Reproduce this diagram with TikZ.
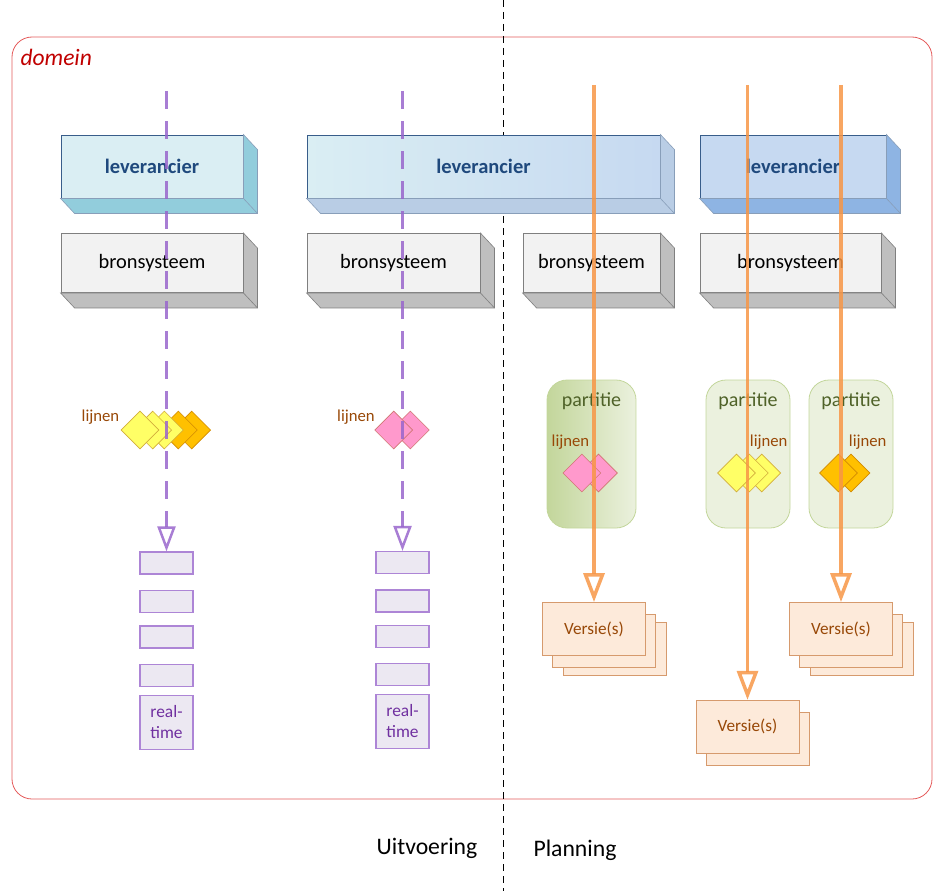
\documentclass[tikz,border=0pt]{standalone}
\usepackage{fontspec}
\setmainfont{Carlito}
\usetikzlibrary{shapes.geometric,arrows.meta,positioning}

\definecolor{domainred}{RGB}{228,90,90}
\definecolor{domaintext}{RGB}{192,0,0}
\definecolor{levtext}{RGB}{31,73,125}
\definecolor{levborder}{RGB}{56,93,138}
\definecolor{cyanfront}{RGB}{218,238,243}
\definecolor{cyanside}{RGB}{146,205,220}
\definecolor{bluefront}{RGB}{198,217,241}
\definecolor{blueside}{RGB}{142,180,227}
\definecolor{bluemid}{RGB}{185,205,229}
\definecolor{bronfront}{RGB}{242,242,242}
\definecolor{bronside}{RGB}{191,191,191}
\definecolor{bronborder}{RGB}{127,127,127}
\definecolor{rtpurple}{RGB}{153,102,204}
\definecolor{rttext}{RGB}{112,48,160}
\definecolor{rtfill}{RGB}{236,232,242}
\definecolor{lijnbrown}{RGB}{152,72,7}
\definecolor{partgreen}{RGB}{79,98,40}
\definecolor{partdark}{RGB}{195,214,155}
\definecolor{partlight}{RGB}{235,241,222}
\definecolor{gemyellow}{RGB}{255,255,102}
\definecolor{gemorange}{RGB}{255,192,0}
\definecolor{gempink}{RGB}{255,153,204}
\definecolor{versieorange}{RGB}{247,150,70}
\definecolor{versiefill}{RGB}{253,234,218}
\definecolor{versieborder}{RGB}{200,120,60}

% depth faces of a 3D block: node name, fill, edge colour
\newcommand{\boxdepth}[3]{%
  \filldraw[fill=#2, draw=#3, line width=0.6pt] (#1.south west) -- ++(14,15)
    -- ([shift={(14,15)}]#1.south east) -- ([shift={(14,15)}]#1.north east)
    -- (#1.north east) -- (#1.south east) -- cycle;
  \draw[#3, line width=0.6pt] (#1.south east) -- ++(14,15);}

\tikzset{
  levbox/.style={draw=levborder, line width=0.9pt, minimum height=63pt, inner sep=0pt,
    text=levtext, font=\fontsize{20.5}{24}\selectfont\bfseries},
  bronbox/.style={draw=bronborder, fill=bronfront, line width=0.9pt, minimum height=59pt,
    inner sep=0pt, font=\fontsize{20.4}{24}\selectfont},
  rtbox/.style={draw=rtpurple!80, fill=rtfill, line width=1.2pt, minimum width=53pt,
    minimum height=22pt, inner sep=0pt, text=rttext, align=center,
    font=\fontsize{17.4}{21}\selectfont},
  gem/.style={diamond, aspect=1, minimum width=38pt, minimum height=38pt, inner sep=0pt,
    fill=#1, draw=#1!55!lijnbrown, line width=0.6pt},
  lijntext/.style={text=lijnbrown, font=\fontsize{16.7}{19}\selectfont},
  partbox/.style={draw=partdark, line width=0.8pt, rounded corners=20pt, minimum height=148pt},
  parttext/.style={text=partgreen, font=\fontsize{20}{24}\selectfont},
  versiebox/.style={draw=versieborder!75, fill=versiefill, line width=0.8pt, minimum width=103pt,
    minimum height=53pt, inner sep=0pt, text=lijnbrown, font=\fontsize{17.2}{20}\selectfont},
  phase/.style={font=\fontsize{23.7}{28}\selectfont},
  rtarrow/.style={draw=rtpurple, draw opacity=0.85, line width=2.5pt, dash pattern=on 18pt off 12pt,
    -{Triangle[open, length=25pt, width=18pt]}},
  versiearrow/.style={draw=versieorange, draw opacity=0.85, line width=3.5pt,
    -{Triangle[open, length=29pt, width=21pt]}}
}

\begin{document}
\begin{tikzpicture}[x=1pt, y=-1pt]
    \useasboundingbox (0,0) rectangle (935,891);

    % Domain frame
    \draw[domainred, line width=0.8pt, rounded corners=20pt] (12,37) rectangle (932,799);
    \node[anchor=west, text=domaintext, font=\fontsize{23.5}{28}\selectfont\itshape] (domein) at (17,57) {domein};

    % Divider
    \draw[black, line width=0.8pt, dash pattern=on 7pt off 5pt] (503,0) -- (503,891);

    % Leverancier blocks
    \node[levbox, fill=cyanfront, minimum width=182pt] (lev1) at (152,166.5) {leverancier};
    \boxdepth{lev1}{cyanside}{levborder!60}
    \node[levbox, left color=cyanfront, right color=bluefront, minimum width=353pt] (lev2) at (483.5,166.5) {leverancier};
    \boxdepth{lev2}{bluemid}{levborder!60}
    \node[levbox, fill=bluefront, minimum width=186pt] (lev3) at (793,166.5) {leverancier};
    \boxdepth{lev3}{blueside}{levborder!60}

    % Bronsysteem blocks
    \node[bronbox, minimum width=182pt] (bron1) at (152,263) {bronsysteem};
    \boxdepth{bron1}{bronside}{bronborder}
    \node[bronbox, minimum width=173pt] (bron2) at (393.5,263) {bronsysteem};
    \boxdepth{bron2}{bronside}{bronborder}
    \node[bronbox, minimum width=137pt] (bron3) at (591.5,263) {bronsysteem};
    \boxdepth{bron3}{bronside}{bronborder}
    \node[bronbox, minimum width=181pt] (bron4) at (790.5,263) {bronsysteem};
    \boxdepth{bron4}{bronside}{bronborder}

    % Uitvoering: lijnen
    \node[lijntext] (lijn1) at (100.5,417) {lijnen};
    \foreach \x/\c [count=\i] in {191.7/gemorange, 178.3/gemorange, 164.3/gemyellow, 152.7/gemyellow, 140/gemyellow}
        \node[gem=\c] (gemA\i) at (\x,430) {};
    \node[lijntext] (lijn2) at (356,417) {lijnen};
    \foreach \x [count=\i] in {410.3, 393.7}
        \node[gem=gempink] (gemB\i) at (\x,430) {};

    % Planning: partities
    \node[partbox, left color=partdark, right color=partlight, minimum width=89pt] (part1) at (591.5,454) {};
    \node[partbox, fill=partlight, minimum width=84pt] (part2) at (748,454) {};
    \node[partbox, fill=partlight, minimum width=84pt] (part3) at (851,454) {};
    \node[parttext] (part1t) at (591.5,401) {partitie};
    \node[parttext] (part2t) at (748,401) {partitie};
    \node[parttext] (part3t) at (851,401) {partitie};

    \node[lijntext] (lijn3) at (570.5,442) {lijnen};
    \node[lijntext] (lijn4) at (768.7,442) {lijnen};
    \node[lijntext] (lijn5) at (867.7,442) {lijnen};
    \foreach \x [count=\i] in {598.5, 581.8}
        \node[gem=gempink] (gemC\i) at (\x,473) {};
    \foreach \x [count=\i] in {761.7, 749.3, 736.5}
        \node[gem=gemyellow] (gemD\i) at (\x,473) {};
    \foreach \x [count=\i] in {851, 838.5}
        \node[gem=gemorange] (gemE\i) at (\x,473) {};

    % Real-time stacks
    \node[rtbox] (rtA1) at (166.5,563) {};
    \node[rtbox] (rtA2) at (166.5,601.5) {};
    \node[rtbox] (rtA3) at (166.5,637) {};
    \node[rtbox] (rtA4) at (166.5,675.5) {};
    \node[rtbox, minimum height=54pt] (rtA5) at (166.5,722.5) {real-\\time};
    \node[rtbox] (rtB1) at (402.5,562.5) {};
    \node[rtbox] (rtB2) at (402.5,601) {};
    \node[rtbox] (rtB3) at (402.5,636.5) {};
    \node[rtbox] (rtB4) at (402.5,674.5) {};
    \node[rtbox, minimum height=54pt] (rtB5) at (402.5,721.5) {real-\\time};

    % Versie stacks
    \node[versiebox] (v1c) at (614.5,649) {};
    \node[versiebox] (v1b) at (604,640.5) {};
    \node[versiebox] (v1) at (594,629) {Versie(s)};
    \node[versiebox] (v2b) at (758,739) {};
    \node[versiebox] (v2) at (747.5,726.7) {Versie(s)};
    \node[versiebox] (v3c) at (861.5,649) {};
    \node[versiebox] (v3b) at (851,640.5) {};
    \node[versiebox] (v3) at (841,629) {Versie(s)};

    % Flows
    \coordinate (rtAtop) at (166.5,91);
    \coordinate (rtBtop) at (402.5,91);
    \coordinate (v1top) at (594,85);
    \coordinate (v2top) at (747.5,85);
    \coordinate (v3top) at (841,85);
    \draw[rtarrow] (rtAtop) -- (rtA1);
    \draw[rtarrow] (rtBtop) -- (rtB1);
    \draw[versiearrow] (v1top) -- (v1);
    \draw[versiearrow] (v2top) -- (v2);
    \draw[versiearrow] (v3top) -- (v3);

    % Phases
    \node[phase] (uitvoering) at (427,848) {Uitvoering};
    \node[phase] (planning) at (575,850) {Planning};
\end{tikzpicture}
\end{document}
